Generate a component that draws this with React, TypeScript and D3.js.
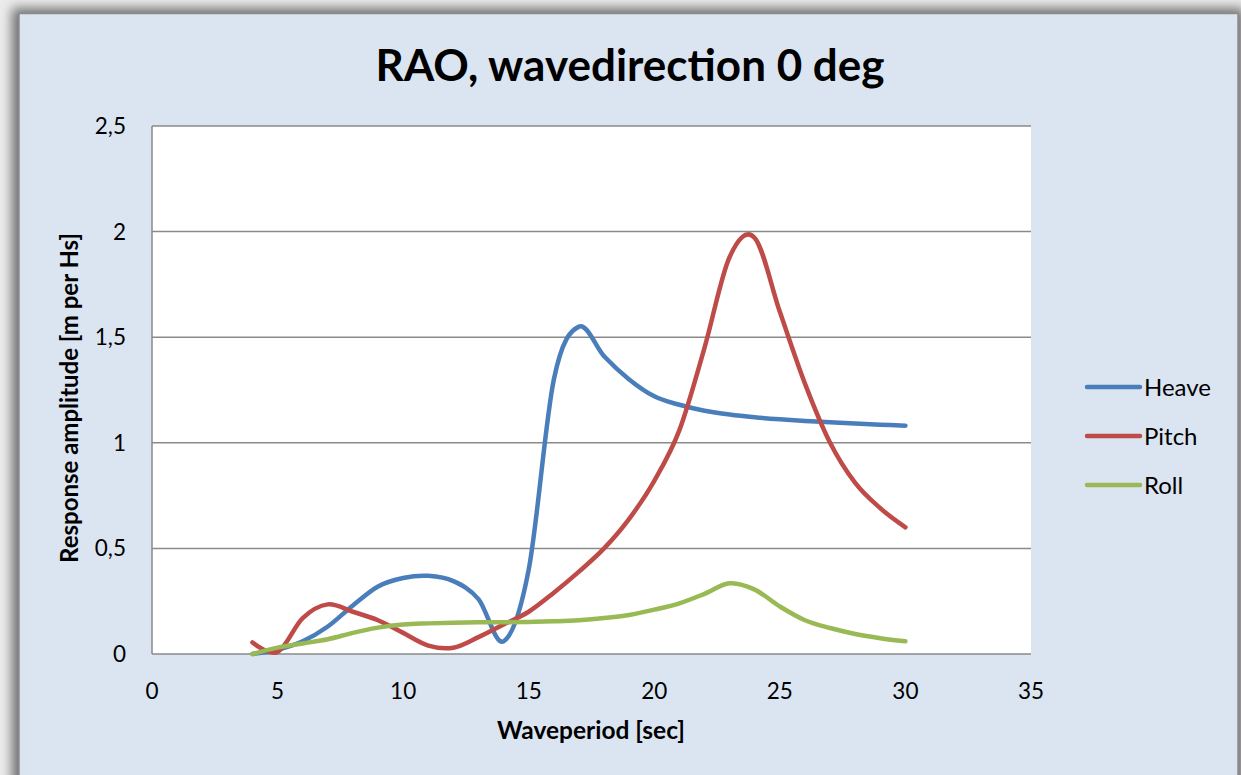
import { useEffect } from "react";
import * as d3 from "d3";

const WIDTH = 1241;
const HEIGHT = 775;
const PLOT = { left: 152, right: 1031, top: 126, bottom: 654 };

const periods = [4, 5, 6, 7, 8, 9, 10, 11, 12, 13, 14, 15, 16, 17, 18, 19, 20, 21, 22, 23, 24, 25, 26, 27, 28, 29, 30];
const heave = [0.0, 0.02, 0.06, 0.13, 0.23, 0.32, 0.36, 0.37, 0.345, 0.26, 0.06, 0.4, 1.3, 1.55, 1.41, 1.3, 1.22, 1.18, 1.152, 1.134, 1.121, 1.111, 1.103, 1.097, 1.091, 1.086, 1.081];
const pitch = [0.055, 0.01, 0.17, 0.235, 0.2, 0.16, 0.1, 0.04, 0.03, 0.08, 0.14, 0.2, 0.29, 0.39, 0.5, 0.64, 0.82, 1.06, 1.45, 1.88, 1.97, 1.62, 1.28, 1.0, 0.81, 0.69, 0.6];
const roll = [0.0, 0.03, 0.05, 0.07, 0.1, 0.125, 0.14, 0.145, 0.148, 0.15, 0.15, 0.152, 0.155, 0.16, 0.17, 0.185, 0.21, 0.24, 0.285, 0.335, 0.305, 0.225, 0.16, 0.123, 0.095, 0.075, 0.06];

const xTicks = [0, 5, 10, 15, 20, 25, 30, 35];
const yTicks = [0, 0.5, 1, 1.5, 2, 2.5];

const series = [
  { name: "Heave", values: heave, color: "#4A7EBB" },
  { name: "Pitch", values: pitch, color: "#BE4B48" },
  { name: "Roll", values: roll, color: "#98B954" },
];

const FONT = "Lato, 'Open Sans', sans-serif";

export default function App() {
  useEffect(() => {
    document.body.style.margin = "0";
  }, []);

  const x = d3.scaleLinear().domain([0, 35]).range([PLOT.left, PLOT.right]);
  const y = d3.scaleLinear().domain([0, 2.5]).range([PLOT.bottom, PLOT.top]);

  // Excel "smoothed line" is close to a Catmull-Rom / cardinal spline
  const line = d3
    .line<number>()
    .x((_, i) => x(periods[i]))
    .y((d) => y(d))
    .curve(d3.curveCardinal.tension(0));

  const fmt = (v: number) => String(v).replace(".", ",");

  return (
    <svg width={WIDTH} height={HEIGHT} style={{ display: "block" }}>
      <defs>
        <filter id="shadow" x="-5%" y="-5%" width="110%" height="110%">
          <feGaussianBlur stdDeviation="6" />
        </filter>
      </defs>
      <rect width={WIDTH} height={HEIGHT} fill="#ececec" />
      <rect x={12} y={8} width={1232} height={800} fill="#6f6f6f" filter="url(#shadow)" />
      <rect x={19} y={13.5} width={1219} height={800} fill="#DBE5F1" stroke="#8c8c8c" strokeWidth={1.5} />

      <text x={630} y={81} textAnchor="middle" fontFamily={FONT} fontWeight="bold" fontSize={44} fill="#000">
        RAO, wavedirection 0 deg
      </text>

      <rect x={PLOT.left} y={PLOT.top} width={PLOT.right - PLOT.left} height={PLOT.bottom - PLOT.top} fill="#fff" />

      {yTicks.map((t) => (
        <g key={t}>
          <line x1={PLOT.left} x2={PLOT.right} y1={y(t)} y2={y(t)} stroke="#8a8a8a" strokeWidth={1.5} />
          <text x={126} y={y(t) + 8} textAnchor="end" fontFamily={FONT} fontSize={22.5} fill="#000">
            {fmt(t)}
          </text>
        </g>
      ))}
      <line x1={PLOT.left} x2={PLOT.left} y1={PLOT.top} y2={PLOT.bottom} stroke="#8a8a8a" strokeWidth={1.5} />

      {xTicks.map((t) => (
        <text key={t} x={x(t)} y={699} textAnchor="middle" fontFamily={FONT} fontSize={22.5} fill="#000">
          {t}
        </text>
      ))}

      <text x={591} y={739} textAnchor="middle" fontFamily={FONT} fontWeight="bold" fontSize={24.5} fill="#000">
        Waveperiod [sec]
      </text>
      <text
        transform={`translate(78,${(PLOT.top + PLOT.bottom) / 2 + 8}) rotate(-90)`}
        textAnchor="middle"
        fontFamily={FONT}
        fontWeight="bold"
        fontSize={24}
        fill="#000"
      >
        Response amplitude [m per Hs]
      </text>

      {series.map((s) => (
        <path
          key={s.name}
          d={line(s.values) ?? ""}
          fill="none"
          stroke={s.color}
          strokeWidth={4.5}
          strokeLinecap="round"
          strokeLinejoin="round"
        />
      ))}

      {series.map((s, i) => (
        <g key={s.name} transform={`translate(0,${387 + i * 49})`}>
          <line x1={1087} x2={1140} y1={0} y2={0} stroke={s.color} strokeWidth={4.5} strokeLinecap="round" />
          <text x={1144} y={8.5} fontFamily={FONT} fontSize={24} fill="#000">
            {s.name}
          </text>
        </g>
      ))}
    </svg>
  );
}
